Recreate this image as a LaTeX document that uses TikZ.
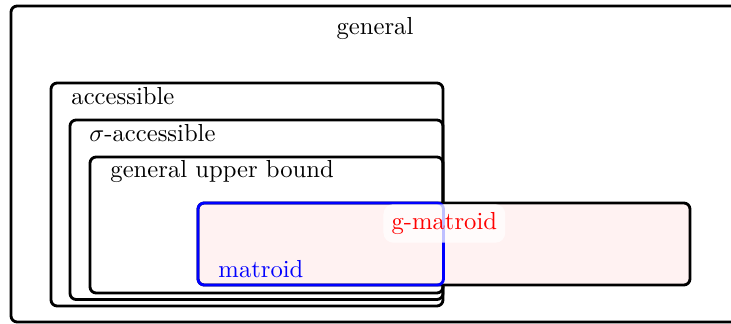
\documentclass[tikz,border=0pt]{standalone}
\usetikzlibrary{fit}
\begin{document}
\begin{tikzpicture}[x=0.406pt,y=-0.406pt,
  box/.style={draw=black,line width=1.15pt,rounded corners=2.5pt,inner sep=0pt},
  lbl/.style={anchor=base west,inner sep=0pt},
]
\useasboundingbox (0,0) rectangle (731,324);
\clip (0,0) rectangle (731,324);
\node[box,fit={(11,6) (770,322)}] (gen) {};
\node[anchor=base,inner sep=0pt] (tgen) at (375,35) {general};
\node[box,fit={(51,83) (443,306)}] (acc) {};
\node[lbl] (tacc) at (71,105) {accessible};
\node[box,fit={(70,120) (443,299.5)}] (sacc) {};
\node[lbl] (tsacc) at (89,141.5) {$\sigma$-accessible};
\node[box,fit={(90,157) (443,293)}] (gub) {};
\node[lbl] (tgub) at (110,178) {general upper bound};
\node[box,fill=red!5,fit={(198,203) (690,285)}] (gm) {};
\node[box,draw=blue,fit={(198,203) (443.5,285)}] (mat) {};
\node[anchor=base west,inner sep=3.3pt,fill=white,fill opacity=0.75,text opacity=1,text=red,rounded corners=4pt] (tgm) at (383,229.5) {g-matroid};
\node[lbl,text=blue] (tmat) at (218,278) {matroid};
\end{tikzpicture}
\end{document}
